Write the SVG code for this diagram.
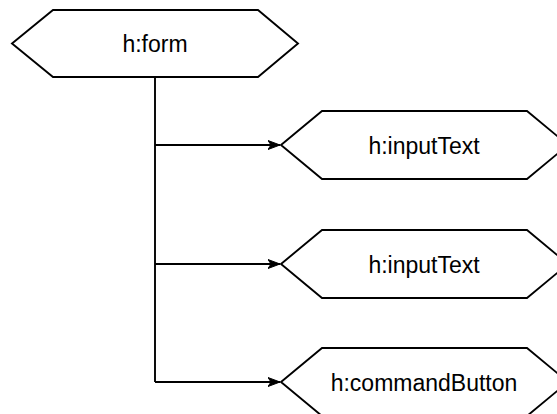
<svg xmlns="http://www.w3.org/2000/svg" width="557" height="414" viewBox="0 0 557 414">
<style>
.hex{fill:#fff;stroke:#000;stroke-width:1.9;stroke-linejoin:miter}
.lbl{font-family:"Liberation Sans",Arial,sans-serif;font-size:23px;fill:#000;text-anchor:middle}
.edge{fill:none;stroke:#000;stroke-width:1.9}
</style>
<defs>
<marker id="arr" markerUnits="userSpaceOnUse" markerWidth="14" markerHeight="12" refX="12" refY="5" orient="auto" viewBox="0 0 14 10">
<path d="M0,0.5 L12,5 L0,9.5 L3,5 Z" fill="#000" stroke="#000" stroke-width="1"/>
</marker>
</defs>
<rect width="557" height="414" fill="#fff"/>
<g id="connectors">
<path class="edge" d="M155,77 V382"/>
<path class="edge" d="M155,145 H280" marker-end="url(#arr)"/>
<path class="edge" d="M155,264 H280" marker-end="url(#arr)"/>
<path class="edge" d="M155,382 H280" marker-end="url(#arr)"/>
</g>
<g id="form">
<polygon class="hex" points="12,43.5 53,10 258,10 298,43.5 258,77 53,77"/>
<text class="lbl" x="155" y="52">h:form</text>
</g>
<g id="inputText1">
<polygon class="hex" points="281,145 322,111 527,111 568,145 527,179 322,179"/>
<text class="lbl" x="424" y="154">h:inputText</text>
</g>
<g id="inputText2">
<polygon class="hex" points="281,264 322,230 527,230 568,264 527,298 322,298"/>
<text class="lbl" x="424" y="273">h:inputText</text>
</g>
<g id="commandButton">
<polygon class="hex" points="281,382 322,348 527,348 568,382 527,416 322,416"/>
<text class="lbl" x="424" y="391">h:commandButton</text>
</g>
</svg>
